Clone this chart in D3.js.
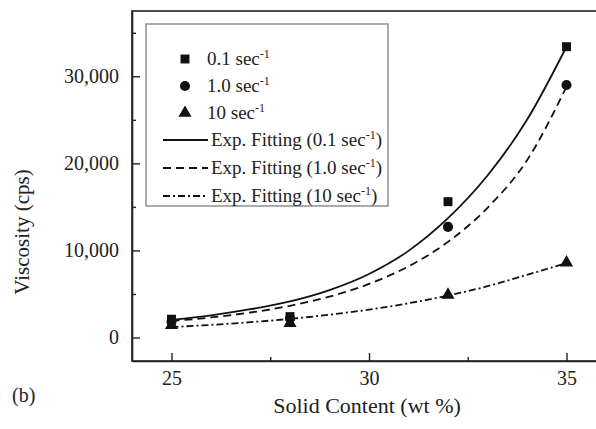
<!DOCTYPE html>
<html>
<head>
<meta charset="utf-8">
<script src="https://cdn.jsdelivr.net/npm/d3@7"></script>
<style>
  body { margin: 0; background: #fff; }
  svg { display: block; }
</style>
</head>
<body>
<script>
// measured values
let solidContent = [25, 28, 32, 35];
let visc01 = [2100, 2400, 15600, 33400];
let visc10 = [1800, 2200, 12700, 29000];
let visc100 = [1400, 1650, 4900, 8600];

// fitted curves
let fitX = [25, 26, 27, 28, 29, 30, 31, 32, 33, 34, 35];
let fit01 = [2030, 2550, 3250, 4150, 5450, 7300, 9950, 13700, 18600, 25000, 33400];
let fit10 = [1900, 2300, 2870, 3640, 4690, 6150, 8170, 10980, 14900, 20350, 28800];
let fit100 = [1200, 1450, 1760, 2140, 2620, 3200, 3930, 4810, 5890, 7200, 8540];

let xTicks = [25, 30, 35];
let xMinor = [27.5, 32.5];
let yTicks = [0, 10000, 20000, 30000];
let yMinor = [5000, 15000, 25000, 35000];

let w = 596;
let h = 429;
let padLeft = 132, padTop = 11, padBottom = 361;
let serif = "'Liberation Serif', 'Times New Roman', Times, serif";

let xScale = d3.scaleLinear().domain([24, 36]).range([padLeft, 606]);
let yScale = d3.scaleLinear().domain([-2700, 37500]).range([padBottom, padTop]);

let svg = d3.select("body").append("svg")
  .attr("width", w)
  .attr("height", h)
  .style("font-family", serif);

// frame
svg.append("rect")
  .attr("x", padLeft)
  .attr("y", padTop)
  .attr("width", 606 - padLeft)
  .attr("height", padBottom - padTop)
  .attr("fill", "none")
  .attr("stroke", "#222")
  .attr("stroke-width", 1.6);

// x axis
let xAxis = d3.axisBottom(xScale).tickValues(xTicks).tickSizeInner(-8).tickSizeOuter(0).tickPadding(10);
let gx = svg.append("g")
  .attr("transform", "translate(0," + padBottom + ")")
  .call(xAxis)
  .attr("font-family", null);
gx.selectAll(".tick text").style("font-size", "20px").style("font-family", serif).attr("fill", "#222");
gx.select(".domain").attr("stroke", "#222").attr("stroke-width", 1.6);
gx.selectAll(".tick line").attr("stroke", "#222").attr("stroke-width", 1.4);

svg.append("g")
  .attr("transform", "translate(0," + padBottom + ")")
  .call(d3.axisBottom(xScale).tickValues(xMinor).tickSizeInner(-4).tickSizeOuter(0).tickFormat(""))
  .call(g => g.select(".domain").remove())
  .call(g => g.selectAll(".tick line").attr("stroke", "#222").attr("stroke-width", 1.4));

// y axis
let yAxis = d3.axisLeft(yScale).tickValues(yTicks).tickSizeInner(-8).tickSizeOuter(0).tickPadding(13)
  .tickFormat(d3.format(","));
let gy = svg.append("g")
  .attr("transform", "translate(" + padLeft + ",0)")
  .call(yAxis)
  .attr("font-family", null);
gy.selectAll(".tick text").style("font-size", "20px").style("font-family", serif).attr("fill", "#222");
gy.select(".domain").attr("stroke", "#222").attr("stroke-width", 1.6);
gy.selectAll(".tick line").attr("stroke", "#222").attr("stroke-width", 1.4);

svg.append("g")
  .attr("transform", "translate(" + padLeft + ",0)")
  .call(d3.axisLeft(yScale).tickValues(yMinor).tickSizeInner(-4).tickSizeOuter(0).tickFormat(""))
  .call(g => g.select(".domain").remove())
  .call(g => g.selectAll(".tick line").attr("stroke", "#222").attr("stroke-width", 1.4));

// axis titles
svg.append("text")
  .attr("x", 367)
  .attr("y", 413)
  .attr("text-anchor", "middle")
  .attr("fill", "#222")
  .style("font-size", "22px")
  .text("Solid Content (wt %)");

svg.append("text")
  .attr("transform", "translate(29,232) rotate(-90)")
  .attr("text-anchor", "middle")
  .attr("fill", "#222")
  .style("font-size", "21px")
  .text("Viscosity (cps)");

svg.append("text")
  .attr("x", 12)
  .attr("y", 402)
  .attr("fill", "#222")
  .style("font-size", "20px")
  .text("(b)");

// fit curves
let fits = [
  {v: fit01, dash: null},
  {v: fit10, dash: "8,5"},
  {v: fit100, dash: "7,3,2,3"}
];
fits.forEach(f => {
  let line = d3.line()
    .x((d, i) => xScale(fitX[i]))
    .y(d => yScale(d))
    .curve(d3.curveMonotoneX);
  svg.append("path")
    .datum(f.v)
    .attr("d", line)
    .attr("fill", "none")
    .attr("stroke", "#111")
    .attr("stroke-width", 1.8)
    .attr("stroke-dasharray", f.dash);
});

// markers
let sq = d3.symbol().type(d3.symbolSquare).size(80);
let ci = d3.symbol().type(d3.symbolCircle).size(80);
let tr = d3.symbol().type(d3.symbolTriangle).size(75);

let series = [
  {v: visc01, sym: sq},
  {v: visc10, sym: ci},
  {v: visc100, sym: tr}
];
series.forEach(s => {
  svg.append("g").selectAll("path")
    .data(s.v)
    .enter()
    .append("path")
    .attr("d", s.sym)
    .attr("transform", (d, i) => "translate(" + xScale(solidContent[i]) + "," + yScale(d) + ")")
    .attr("fill", "#111");
});

// legend
let lg = svg.append("g");
lg.append("rect")
  .attr("x", 146)
  .attr("y", 24)
  .attr("width", 242)
  .attr("height", 182)
  .attr("fill", "#fff")
  .attr("stroke", "#888")
  .attr("stroke-width", 1.4);

let legendRows = [
  {type: "sym", sym: sq, label: "0.1 sec", y: 59},
  {type: "sym", sym: ci, label: "1.0 sec", y: 86},
  {type: "sym", sym: tr, label: "10 sec", y: 113},
  {type: "line", dash: null, label: "Exp. Fitting (0.1 sec", y: 140},
  {type: "line", dash: "8,5", label: "Exp. Fitting (1.0 sec", y: 168},
  {type: "line", dash: "7,3,2,3", label: "Exp. Fitting (10 sec", y: 196}
];
legendRows.forEach(r => {
  let tx;
  if (r.type === "sym") {
    lg.append("path")
      .attr("d", r.sym)
      .attr("transform", "translate(185," + r.y + ")")
      .attr("fill", "#111");
    tx = 207;
  } else {
    lg.append("line")
      .attr("x1", 163).attr("x2", 208)
      .attr("y1", r.y).attr("y2", r.y)
      .attr("stroke", "#111")
      .attr("stroke-width", 1.8)
      .attr("stroke-dasharray", r.dash);
    tx = 211;
  }
  let t = lg.append("text")
    .attr("x", tx)
    .attr("y", r.y + 6)
    .attr("fill", "#222")
    .style("font-size", "19px");
  t.append("tspan").text(r.label);
  t.append("tspan").attr("dy", -7).style("font-size", "12px").text("-1");
  if (r.type === "line") {
    t.append("tspan").attr("dy", 7).text(")");
  }
});
</script>
</body>
</html>
